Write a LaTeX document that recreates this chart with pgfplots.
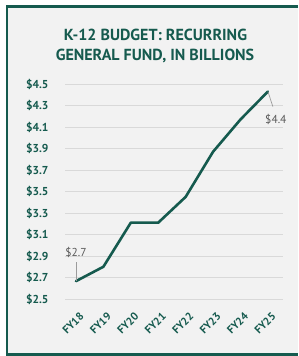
\documentclass[border=0pt]{standalone}
\usepackage{pgfplots}
\pgfplotsset{compat=1.18}
\usepackage{fontspec}
\setmainfont{PT Sans}
\definecolor{teal1}{HTML}{155A4E}
\definecolor{bgc}{HTML}{F2F2F2}
\definecolor{gridc}{HTML}{D9D9D9}
\definecolor{lblc}{HTML}{595959}
\begin{document}
\begin{tikzpicture}
\path[use as bounding box] (0,0) rectangle (298pt,356pt);
\fill[white] (0,0) rectangle (298pt,356pt);
\fill[bgc] (6pt,2pt) rectangle (298pt,350pt);
\draw[teal1, line width=2.5pt] (298pt,349.5pt) -- (7pt,349.5pt) -- (7pt,1.5pt) -- (298pt,1.5pt);
\node[teal1, font=\fontsize{16}{19}\selectfont\bfseries] at (155.5pt,321pt) {K-12 BUDGET: RECURRING};
\node[teal1, font=\fontsize{16}{19}\selectfont\bfseries] at (155pt,300pt) {GENERAL FUND, IN BILLIONS};
\begin{axis}[
  at={(65pt,57pt)}, anchor=south west,
  scale only axis, width=218pt, height=215pt,
  xmin=-0.4, xmax=7.55, ymin=2.5, ymax=4.5,
  axis line style={draw=none},
  major tick length=0pt,
  ymajorgrids, grid style={gridc, line width=0.8pt},
  xtick={0,1,2,3,4,5,6,7},
  xticklabels={FY18,FY19,FY20,FY21,FY22,FY23,FY24,FY25},
  ytick={2.5,2.7,2.9,3.1,3.3,3.5,3.7,3.9,4.1,4.3,4.5},
  yticklabels={\$2.5,\$2.7,\$2.9,\$3.1,\$3.3,\$3.5,\$3.7,\$3.9,\$4.1,\$4.3,\$4.5},
  yticklabel style={font=\fontsize{11.5}{13}\selectfont\bfseries, teal1, anchor=east, xshift=-13pt},
  xticklabel style={font=\fontsize{11}{12}\selectfont\bfseries, teal1, xshift=3pt, yshift=-11pt, rotate=45, anchor=north east, inner sep=1pt},
  clip=false,
]
\addplot[teal1, line width=2.6pt, line join=round, line cap=round, mark=none]
  coordinates {(0,2.666) (1,2.80) (2,3.21) (3,3.21) (4,3.45) (5,3.87) (6,4.17) (7,4.43)};
\draw[lblc!60, line width=0.7pt] (axis cs:0,2.666) -- (axis cs:0,2.843);
\draw[lblc!60, line width=0.7pt] (axis cs:7,4.43) -- (axis cs:7.18,4.29);
\node[lblc, font=\fontsize{11.5}{13}\selectfont] at (axis cs:0,2.936) {\$2.7};
\node[lblc, font=\fontsize{11.5}{13}\selectfont] at (axis cs:7.29,4.17) {\$4.4};
\end{axis}
\end{tikzpicture}
\end{document}
